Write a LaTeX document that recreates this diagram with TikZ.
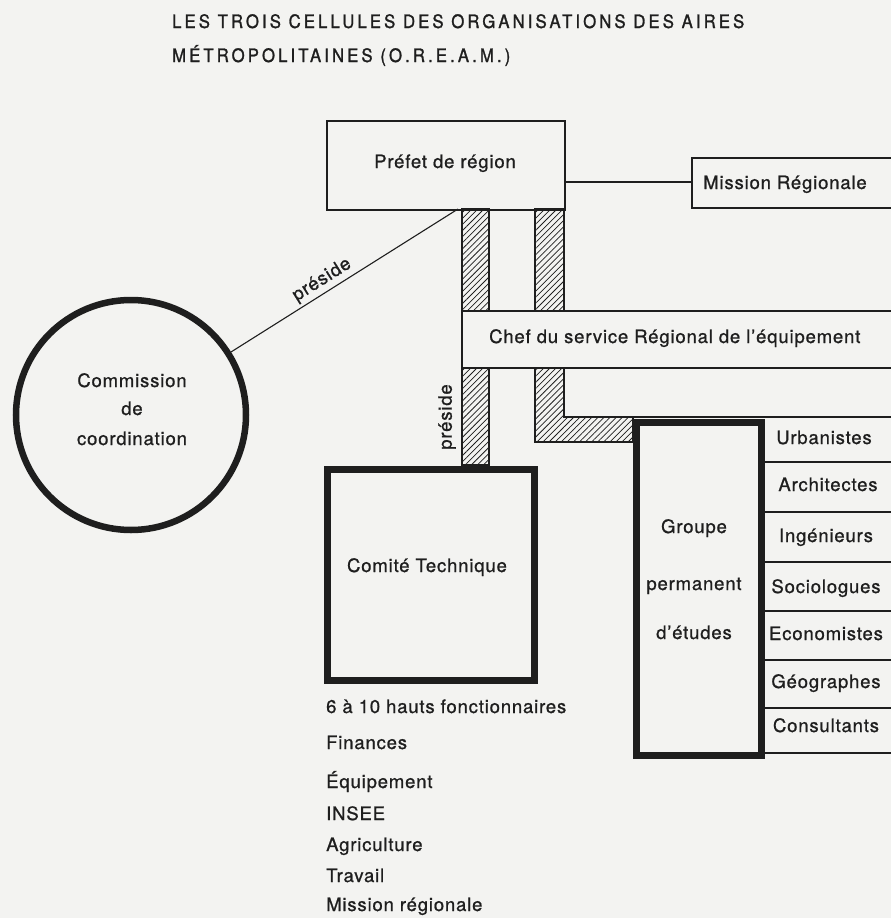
\documentclass[tikz,border=0pt]{standalone}
\usepackage{fontspec}
\setmainfont{TeX Gyre Heros}[LetterSpace=4.5,FakeBold=0.9]
\newfontfamily\titlefont{TeX Gyre Heros}[LetterSpace=17,FakeStretch=0.9,FakeBold=1.4]
\usetikzlibrary{patterns.meta}
\definecolor{ink}{HTML}{1E1E1E}
\definecolor{paper}{HTML}{F3F3F1}
\begin{document}
\begin{tikzpicture}[x=1pt,y=-1pt,line join=miter,
  thinline/.style={draw=ink,line width=1.8pt},
  thickbox/.style={draw=ink,line width=6.5pt},
  thinbox/.style={draw=ink,line width=1.8pt},
  lbl/.style={text=ink,inner sep=0pt,anchor=base,font=\fontsize{18.5}{22}\selectfont},
  lblw/.style={lbl,anchor=base west},
  ttl/.style={text=ink,inner sep=0pt,anchor=base west,font=\titlefont\fontsize{18.5}{20}\selectfont},
  hatch/.style={draw=ink,line width=1.6pt,pattern={Lines[angle=45,distance=4.3pt,line width=0.75pt]},pattern color=ink}]
\fill[paper] (0,0) rectangle (891,918);
\useasboundingbox (0,0) rectangle (891,918);

% title
\node[ttl] (t1) at (172,28) {LES TROIS CELLULES DES ORGANISATIONS DES AIRES};
\node[ttl] (t2) at (172,62) {MÉTROPOLITAINES (O.R.E.A.M.)};

% hatched links
\path[hatch] (462,209) rectangle (489,311);
\path[hatch] (535,209) rectangle (564,311);
\path[hatch] (462,368) rectangle (489,465);
\path[hatch] (535,368) -- (535,442) -- (633,442) -- (633,417) -- (564,417) -- (564,368) -- cycle;

% Prefet
\node[thinbox,minimum width=238pt,minimum height=89pt,anchor=north west,inner sep=0pt] (prefet) at (326,120) {};
\node[lbl] (prefettxt) at (445,168) {Préfet de région};

% Mission regionale
\draw[thinline] (891,158) -- (692,158) -- (692,208) -- (891,208);
\coordinate (mleft) at (692,182);
\node[lbl] (mission) at (785,189) {Mission Régionale};
\draw[thinline] (prefet.east |- mleft) -- (mleft);

% Chef du service
\draw[thinline] (891,311) -- (462,311) -- (462,368) -- (891,368);
\node[lblw] (chef) at (489,343) {Chef du service Régional de l’équipement};
\draw[thinline] (630,417) -- (891,417);

% Comite technique
\node[thickbox,minimum width=207pt,minimum height=211pt,anchor=north west,inner sep=0pt] (comite) at (324,466) {};
\node[lbl] (comitetxt) at (427,572) {Comité Technique};

% Groupe permanent
\node[thickbox,minimum width=125pt,minimum height=333pt,anchor=north west,inner sep=0pt] (groupe) at (633,419) {};
\node[lbl] (g1) at (694,533) {Groupe};
\node[lbl] (g2) at (694,590) {permanent};
\node[lbl] (g3) at (694,639) {d’études};

% specialities
\foreach \yy in {462,512,562,611,660,708,753} {\draw[thinline] (758,\yy) -- (891,\yy);}
\node[lbl] (s1) at (824,444) {Urbanistes};
\node[lbl] (s2) at (828,491) {Architectes};
\node[lbl] (s3) at (826,542) {Ingénieurs};
\node[lbl] (s4) at (826,593) {Sociologues};
\node[lbl] (s5) at (826,640) {Economistes};
\node[lbl] (s6) at (826,688) {Géographes};
\node[lbl] (s7) at (826,732) {Consultants};

% Commission
\node[circle,thickbox,minimum size=230pt,inner sep=0pt] (commission) at (131,415) {};
\node[lbl] (c1) at (132,387) {Commission};
\node[lbl] (c2) at (132,415) {de};
\node[lbl] (c3) at (132,445) {coordination};
\coordinate (pbase) at (458,209);
\draw[draw=ink,line width=1.1pt] (commission) -- node[pos=0.43,sloped,above=2pt,text=ink,inner sep=1pt,font=\fontsize{18.5}{22}\selectfont] (presideA) {préside} (pbase);
\node[rotate=90,text=ink,inner sep=0pt,font=\fontsize{18.5}{22}\selectfont] (presideB) at (447,417) {préside};

% list
\node[lblw] (l0) at (326,713) {6 à 10 hauts fonctionnaires};
\node[lblw] (l1) at (326,749) {Finances};
\node[lblw] (l2) at (326,788) {Équipement};
\node[lblw] (l3) at (326,820) {INSEE};
\node[lblw] (l4) at (326,851) {Agriculture};
\node[lblw] (l5) at (326,882) {Travail};
\node[lblw] (l6) at (326,911) {Mission régionale};
\end{tikzpicture}
\end{document}
